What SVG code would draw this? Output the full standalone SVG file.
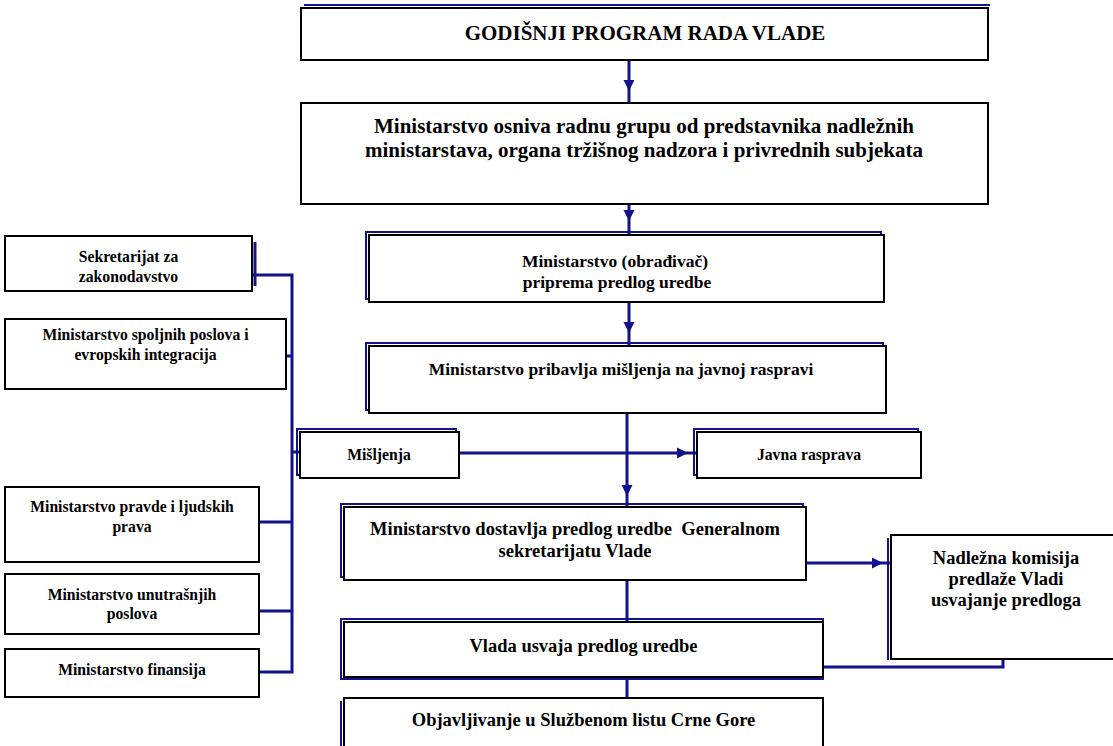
<svg xmlns="http://www.w3.org/2000/svg" width="1113" height="746" viewBox="0 0 1113 746">
<defs>
<style>
.box{fill:#fff;stroke:#000;stroke-width:2}
.sh{fill:none;stroke:#12128c;stroke-width:2}
.conn{fill:none;stroke:#12128c;stroke-width:3}
.ah{fill:#12128c}
.t{font-family:"Liberation Serif","Times New Roman",serif;font-weight:bold;text-anchor:middle;fill:#000}
.f21{font-size:21px}
.f18{font-size:18.5px}
.f17{font-size:17.5px}
.f15{font-size:15.7px}
</style>
<path id="ah" d="M-5.5,-11 L5.5,-11 L0,0 Z"/>
</defs>
<rect width="1113" height="746" fill="#fff"/>

<g id="connectors">
<path class="conn" d="M629,60 V102"/>
<use href="#ah" class="ah" transform="translate(629,91)"/>
<path class="conn" d="M629,204 V235"/>
<use href="#ah" class="ah" transform="translate(629,221)"/>
<path class="conn" d="M629,302 V346"/>
<use href="#ah" class="ah" transform="translate(629,333)"/>
<path class="conn" d="M627,413 V507"/>
<use href="#ah" class="ah" transform="translate(627,496)"/>
<path class="conn" d="M459,453 H697"/>
<use href="#ah" class="ah" transform="translate(688,453) rotate(-90)"/>
<path class="conn" d="M806,563 H891"/>
<use href="#ah" class="ah" transform="translate(883,563) rotate(-90)"/>
<path class="conn" d="M627,580 V622"/>
<path class="conn" d="M627,677 V698"/>
<path class="conn" d="M823,667 H1003 V659"/>
<path class="conn" d="M252,275 H292 V672 H259"/>
<path class="conn" d="M286,356 H292"/>
<path class="conn" d="M259,522 H292"/>
<path class="conn" d="M259,611 H292"/>
<path class="conn" d="M292,452 H300"/>
</g>

<g id="n-godisnji">
<path class="sh" d="M304,5 H990"/>
<rect class="box" x="301" y="8" width="687" height="52"/>
<text class="t f21" x="645" y="40">GODIŠNJI PROGRAM RADA VLADE</text>
</g>

<g id="n-radna-grupa">
<rect class="box" x="301" y="103" width="687" height="101"/>
<text class="t f21" x="644" y="133">Ministarstvo osniva radnu grupu od predstavnika nadležnih</text>
<text class="t f21" x="644" y="157">ministarstava, organa tržišnog nadzora i privrednih subjekata</text>
</g>

<g id="n-priprema">
<rect class="sh" x="366" y="232" width="515" height="67"/>
<rect class="box" x="369" y="235" width="515" height="67"/>
<text class="t f17" x="615" y="267">Ministarstvo (obrađivač)</text>
<text class="t f17" x="617" y="288">priprema predlog uredbe</text>
</g>

<g id="n-javna-rasprava-min">
<rect class="sh" x="366" y="343" width="517" height="67"/>
<rect class="box" x="369" y="346" width="517" height="67"/>
<text class="t f17" x="621" y="375">Ministarstvo pribavlja mišljenja na javnoj raspravi</text>
</g>

<g id="n-misljenja">
<rect class="sh" x="297" y="429" width="159" height="46"/>
<rect class="box" x="300" y="432" width="159" height="46"/>
<text class="t f15" x="379" y="460">Mišljenja</text>
</g>

<g id="n-javna">
<rect class="sh" x="694" y="429" width="224" height="46"/>
<rect class="box" x="697" y="432" width="224" height="46"/>
<text class="t f15" x="809" y="460">Javna rasprava</text>
</g>

<g id="n-dostavlja">
<rect class="sh" x="341" y="504" width="462" height="73"/>
<rect class="box" x="344" y="507" width="462" height="73"/>
<text class="t f18" x="575" y="535" xml:space="preserve">Ministarstvo dostavlja predlog uredbe  Generalnom</text>
<text class="t f18" x="575" y="557">sekretarijatu Vlade</text>
</g>

<g id="n-komisija">
<path class="sh" d="M888,538 V660"/>
<rect class="box" x="891" y="535" width="230" height="124"/>
<text class="t f18" x="1006" y="564">Nadležna komisija</text>
<text class="t f18" x="1006" y="585">predlaže Vladi</text>
<text class="t f18" x="1006" y="606">usvajanje predloga</text>
</g>

<g id="n-vlada">
<rect class="sh" x="341" y="619" width="482" height="60"/>
<rect class="box" x="344" y="622" width="479" height="55"/>
<text class="t f18" x="583.5" y="652">Vlada usvaja predlog uredbe</text>
</g>

<g id="n-objavljivanje">
<path class="sh" d="M341,701 V750"/>
<rect class="box" x="344" y="698" width="479" height="60"/>
<text class="t f18" x="583.5" y="726">Objavljivanje u Službenom listu Crne Gore</text>
</g>

<g id="n-sekretarijat">
<path class="sh" d="M255,242 V286" style="stroke-width:3"/>
<rect class="box" x="5" y="236" width="247" height="55"/>
<text class="t f15" x="128.5" y="262">Sekretarijat za</text>
<text class="t f15" x="128.5" y="282">zakonodavstvo</text>
</g>

<g id="n-spoljni">
<rect class="box" x="5" y="319" width="281" height="70"/>
<text class="t f15" x="145.5" y="340">Ministarstvo spoljnih poslova i</text>
<text class="t f15" x="145.5" y="360">evropskih integracija</text>
</g>

<g id="n-pravda">
<rect class="box" x="5" y="487" width="254" height="75"/>
<text class="t f15" x="132" y="512">Ministarstvo pravde i ljudskih</text>
<text class="t f15" x="132" y="532">prava</text>
</g>

<g id="n-unutrasnji">
<rect class="box" x="5" y="574" width="254" height="60"/>
<text class="t f15" x="132" y="600">Ministarstvo unutrašnjih</text>
<text class="t f15" x="132" y="619">poslova</text>
</g>

<g id="n-finansije">
<rect class="box" x="5" y="649" width="254" height="48"/>
<text class="t f15" x="132" y="675">Ministarstvo finansija</text>
</g>
</svg>
